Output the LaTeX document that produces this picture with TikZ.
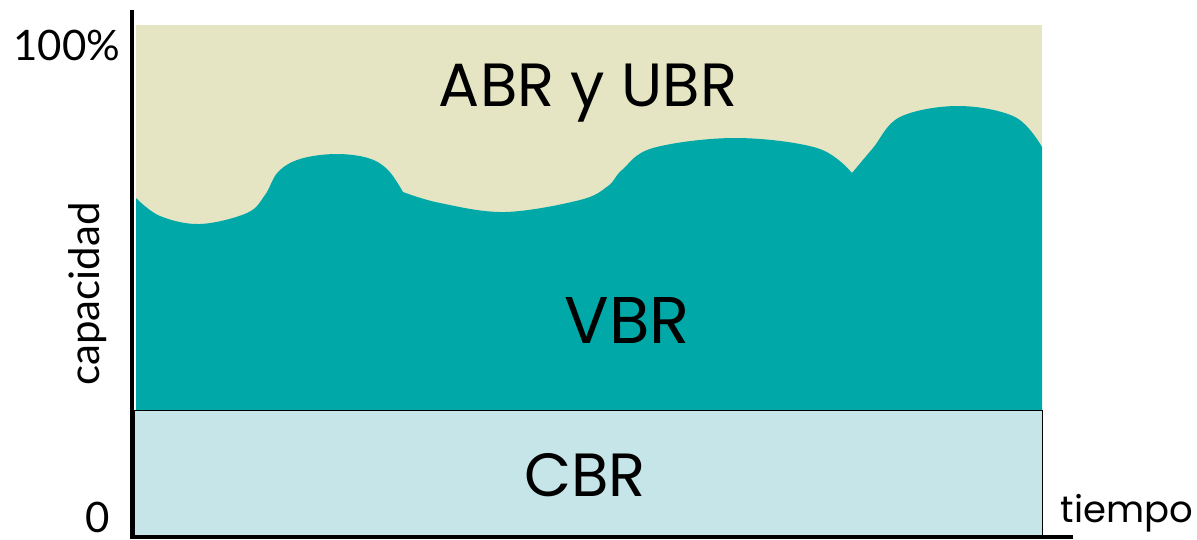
\documentclass[tikz,border=0pt]{standalone}
\usepackage{fontspec}
\setmainfont{Poppins}
\newfontfamily\axfont{Lato}
\definecolor{beige}{HTML}{E5E5C3}
\definecolor{tealc}{HTML}{00A8A8}
\definecolor{cbrc}{HTML}{C6E5E8}
\begin{document}
\begin{tikzpicture}[x=1pt,y=-1pt,
  big/.style={font=\fontsize{61}{64}\selectfont, inner sep=0pt},
  axlbl/.style={font=\axfont\fontsize{42}{44}\selectfont, inner sep=0pt},
  axis/.style={line width=4.5pt}]
\useasboundingbox (0,0) rectangle (1197,539);
\fill[beige] (136,25) rectangle (1042,410);
\fill[tealc] (136,410) -- (136,198)
  -- plot[smooth,tension=0.6] coordinates {(136,198) (160,216) (200,224) (247,213) (265,195) (278,172) (300,159) (335,154) (368,158) (388,170) (403,192)}
  -- plot[smooth,tension=0.6] coordinates {(403,192) (440,203) (505,212) (580,200) (608,186) (622,170) (653,148) (735,138) (817,148) (852,173)}
  -- plot[smooth,tension=0.6] coordinates {(852,173) (873,148) (900,117) (958,106) (1015,117) (1042,147)}
  -- (1042,410) -- cycle;
\node[draw=black, line width=0.8pt, fill=cbrc, minimum width=908pt, minimum height=127pt, inner sep=0pt, anchor=north west] (cbr) at (134,410) {};
\coordinate (ytop) at (132,10);
\coordinate (orig) at (132,537);
\coordinate (xend) at (1073,537);
\draw[axis] (ytop) -- (orig.center) -- (xend);
\node[big] (abr) at (588,93) {ABR y UBR};
\node[big, font=\fontsize{66}{70}\selectfont] (vbr) at (627,320) {VBR};
\node[big] (cbrt) at (585,475) {CBR};
\node[big, font=\fontsize{37}{40}\selectfont] (tiempo) at (1127,513) {tiempo};
\node[axlbl] (p100) at (67,45) {100\%};
\node[axlbl] (zero) at (98,517) {0};
\node[axlbl, rotate=90] (cap) at (88,294) {capacidad};
\end{tikzpicture}
\end{document}
